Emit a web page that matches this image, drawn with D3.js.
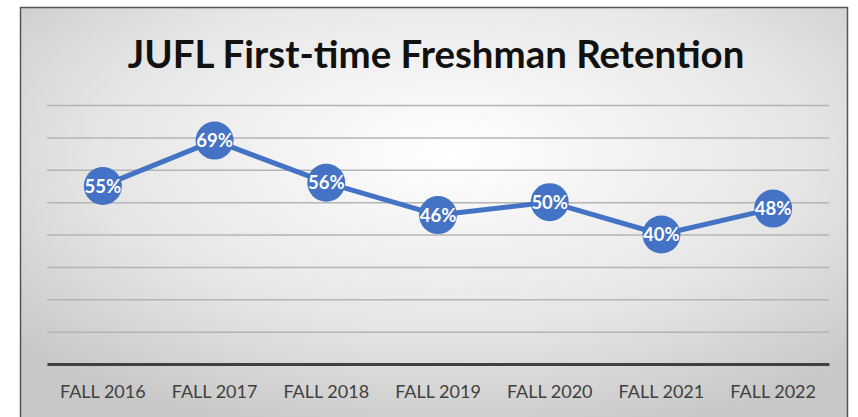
<!DOCTYPE html>
<meta charset="utf-8">
<script src="https://d3js.org/d3.v7.min.js"></script>
<style>
  body { margin: 0; background: #fff; }
  text { font-family: Lato, "Open Sans", sans-serif; }
</style>
<body>
<div id="chart"></div>
<script>
// data
var terms = ["FALL 2016", "FALL 2017", "FALL 2018", "FALL 2019", "FALL 2020", "FALL 2021", "FALL 2022"];
var retention = [55, 69, 56, 46, 50, 40, 48];
var gridTicks = [0, 10, 20, 30, 40, 50, 60, 70, 80];
var title = "JUFL First-time Freshman Retention";

var W = 858, H = 417;
var margin = {top: 105, right: 29, bottom: 53, left: 47};
var width = W - margin.left - margin.right,
    height = H - margin.top - margin.bottom;

var svg = d3.select("#chart").append("svg")
  .attr("width", W).attr("height", H);

var defs = svg.append("defs");
var grad = defs.append("radialGradient").attr("id", "bg")
  .attr("cx", "52%").attr("cy", "35%").attr("r", "70%");
grad.append("stop").attr("offset", "0%").attr("stop-color", "#ffffff");
grad.append("stop").attr("offset", "60%").attr("stop-color", "#e6e6e6");
grad.append("stop").attr("offset", "100%").attr("stop-color", "#c8c8c8");

// chart frame
svg.append("rect")
  .attr("x", 20.5).attr("y", 7.5).attr("width", 827).attr("height", 415)
  .attr("fill", "url(#bg)").attr("stroke", "#555").attr("stroke-width", 1.5);

// title
var t = svg.append("text")
  .attr("x", 436).attr("y", 68)
  .attr("text-anchor", "middle")
  .style("font-weight", "bold").style("font-size", "36px").style("fill", "#111")
  .text(title);
var tw = t.node().getComputedTextLength();
t.style("font-size", (36 * 617 / tw) + "px");

var g = svg.append("g")
  .attr("transform", "translate(" + margin.left + "," + margin.top + ")");

var x = d3.scaleBand().domain(terms).range([0, width]);
var y = d3.scaleLinear().domain([0, 80]).range([height, 0]);

// gridlines
g.append("g")
  .call(d3.axisLeft(y).tickValues(gridTicks).tickSize(-width).tickFormat(""))
  .call(function(a) {
    a.select(".domain").remove();
    a.selectAll(".tick line").attr("stroke", "#b4b4b4").attr("stroke-width", 1.5);
  });

// baseline + category labels
g.append("g")
  .attr("transform", "translate(0," + height + ")")
  .call(d3.axisBottom(x).tickSize(0).tickPadding(21))
  .call(function(a) {
    a.select(".domain").attr("stroke", "#404040").attr("stroke-width", 3);
    a.selectAll(".tick text")
      .style("font-size", "18px").style("fill", "#404040")
      .attr("font-family", "Lato, 'Open Sans', sans-serif");
  });

var cx = function(d, i) { return x(terms[i]) + x.bandwidth() / 2; };

var line = d3.line()
  .x(function(d, i) { return cx(d, i); })
  .y(function(d) { return y(d); });

g.append("path").datum(retention)
  .attr("d", line)
  .attr("fill", "none").attr("stroke", "#4472c4").attr("stroke-width", 5)
  .attr("stroke-linejoin", "round");

g.selectAll("circle.pt").data(retention).enter().append("circle")
  .attr("class", "pt")
  .attr("cx", cx).attr("cy", function(d) { return y(d); })
  .attr("r", 19).attr("fill", "#4472c4");

g.selectAll("text.lbl").data(retention).enter().append("text")
  .attr("class", "lbl")
  .attr("x", cx).attr("y", function(d) { return y(d); })
  .attr("dy", "0.36em").attr("text-anchor", "middle")
  .style("font-size", "18.5px").style("font-weight", "bold").style("fill", "#fff")
  .text(function(d) { return d + "%"; });
</script>
</body>
